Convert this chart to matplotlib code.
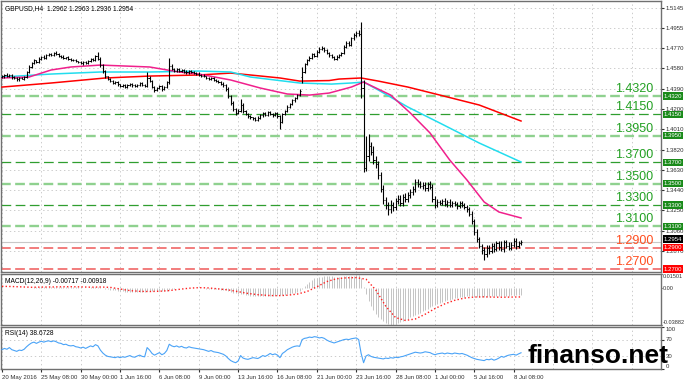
import matplotlib
matplotlib.use("Agg")
import matplotlib.pyplot as plt
import numpy as np

plt.rcParams['font.family'] = ['Liberation Sans', 'DejaVu Sans']
plt.rcParams['lines.scale_dashes'] = False

# ---- data (H4 bars, index 0 = 20 May 2016 16:00) ----
closes = [
    1.4505, 1.4518, 1.4510, 1.4522, 1.4500, 1.4488, 1.4476, 1.4492, 1.4485, 1.4502, 1.4548, 1.4596, 1.4632, 1.4655, 1.4641, 1.4672,
    1.4690, 1.4681, 1.4703, 1.4716, 1.4705, 1.4728, 1.4718, 1.4699, 1.4690, 1.4676, 1.4682, 1.4665, 1.4658, 1.4662, 1.4645, 1.4638,
    1.4626, 1.4640, 1.4632, 1.4651, 1.4668, 1.4660, 1.4694, 1.4672, 1.4610, 1.4552, 1.4505, 1.4478, 1.4462, 1.4445, 1.4452, 1.4430,
    1.4418, 1.4426, 1.4410, 1.4422, 1.4435, 1.4420, 1.4412, 1.4428, 1.4440, 1.4425, 1.4418, 1.4490, 1.4462, 1.4405, 1.4380, 1.4398,
    1.4412, 1.4385, 1.4402, 1.4450, 1.4605, 1.4575, 1.4560, 1.4572, 1.4555, 1.4566, 1.4550, 1.4542, 1.4558, 1.4548, 1.4538, 1.4530,
    1.4522, 1.4512, 1.4505, 1.4492, 1.4480, 1.4490, 1.4472, 1.4460, 1.4450, 1.4438, 1.4420, 1.4385, 1.4320, 1.4255, 1.4200, 1.4165,
    1.4182, 1.4240, 1.4180, 1.4150, 1.4132, 1.4120, 1.4112, 1.4100, 1.4118, 1.4140, 1.4160, 1.4148, 1.4170, 1.4152, 1.4142, 1.4160,
    1.4130, 1.4080, 1.4150, 1.4180, 1.4220, 1.4250, 1.4280, 1.4300, 1.4330, 1.4372, 1.4550, 1.4620, 1.4660, 1.4680, 1.4712, 1.4700,
    1.4738, 1.4762, 1.4770, 1.4748, 1.4720, 1.4702, 1.4685, 1.4672, 1.4688, 1.4705, 1.4722, 1.4780, 1.4820, 1.4800, 1.4860, 1.4890,
    1.4915, 1.4900, 1.4400, 1.3650, 1.3760, 1.3850, 1.3800, 1.3720, 1.3680, 1.3580, 1.3450, 1.3350, 1.3300, 1.3260, 1.3300, 1.3280,
    1.3340, 1.3360, 1.3320, 1.3380, 1.3360, 1.3390, 1.3420, 1.3450, 1.3520, 1.3500, 1.3480, 1.3490, 1.3460, 1.3500, 1.3470, 1.3360,
    1.3300, 1.3330, 1.3320, 1.3340, 1.3310, 1.3330, 1.3300, 1.3320, 1.3310, 1.3290, 1.3320, 1.3300, 1.3280, 1.3260, 1.3220, 1.3150,
    1.3050, 1.2980, 1.2920, 1.2880, 1.2840, 1.2900, 1.2870, 1.2920, 1.2890, 1.2940, 1.2910, 1.2890, 1.2950, 1.2920, 1.2900, 1.2930,
    1.2960, 1.2920, 1.2940, 1.2954,
]
first_open = 1.4500
gap_opens = {122: 1.4500}

# wick sizes in pips above max(open, close) and below min(open, close)
up_pips = [
    12, 8, 15, 10, 6, 9, 14, 7, 11, 8, 10, 12, 9, 14, 8, 11,
    9, 13, 7, 10, 12, 8, 15, 9, 7, 11, 8, 12, 9, 6, 10, 8,
    11, 9, 13, 8, 10, 12, 9, 40, 14, 10, 12, 8, 11, 9, 7, 12,
    8, 10, 12, 9, 11, 7, 13, 9, 8, 12, 10, 60, 15, 9, 11, 8,
    12, 10, 9, 14, 75, 16, 11, 9, 12, 8, 10, 13, 9, 11, 8, 10,
    12, 9, 11, 8, 10, 13, 9, 11, 8, 12, 10, 14, 16, 12, 15, 10,
    18, 50, 14, 11, 9, 12, 8, 10, 13, 15, 11, 9, 12, 10, 8, 14,
    11, 16, 12, 10, 14, 9, 12, 10, 13, 11, 40, 15, 12, 18, 10, 14,
    12, 16, 15, 11, 13, 9, 12, 10, 14, 11, 13, 20, 18, 14, 16, 22,
    18, 25, 115, 70, 190, 120, 40, 55, 35, 30, 25, 40, 30, 25, 45, 30,
    28, 35, 30, 25, 32, 28, 30, 26, 20, 24, 28, 22, 26, 20, 24, 30,
    22, 25, 20, 18, 24, 16, 22, 18, 20, 15, 22, 18, 20, 16, 18, 22,
    20, 24, 22, 18, 25, 30, 22, 26, 24, 20, 28, 50, 25, 22, 30, 20,
    28, 35, 22, 20,
]
dn_pips = [
    10, 14, 9, 12, 15, 8, 11, 13, 9, 10, 12, 8, 10, 9, 13, 8,
    11, 9, 12, 8, 10, 13, 9, 11, 12, 8, 10, 9, 13, 11, 8, 10,
    9, 12, 10, 8, 11, 9, 13, 10, 14, 18, 12, 10, 11, 13, 9, 12,
    10, 8, 13, 11, 9, 12, 10, 8, 11, 9, 12, 10, 14, 12, 18, 10,
    9, 13, 11, 10, 12, 9, 11, 10, 8, 12, 9, 11, 10, 8, 12, 9,
    10, 12, 9, 11, 13, 8, 10, 12, 9, 11, 14, 16, 18, 15, 20, 25,
    14, 12, 16, 10, 13, 11, 15, 12, 10, 9, 13, 11, 10, 12, 14, 9,
    13, 70, 14, 10, 12, 9, 11, 13, 10, 12, 60, 14, 11, 12, 9, 13,
    10, 12, 11, 13, 9, 12, 10, 14, 11, 9, 12, 10, 13, 11, 12, 14,
    12, 15, 100, 40, 30, 45, 35, 40, 30, 35, 30, 40, 35, 50, 30, 35,
    30, 28, 32, 25, 30, 28, 22, 25, 28, 30, 22, 26, 24, 28, 22, 30,
    25, 20, 22, 18, 20, 24, 18, 22, 20, 25, 18, 22, 20, 25, 24, 30,
    28, 30, 25, 35, 55, 25, 30, 22, 28, 25, 30, 22, 26, 24, 20, 25,
    22, 28, 20, 18,
]

# moving averages (bar index, price)
ma_red_idx = [0, 20, 42, 60, 80, 93, 101, 113, 121, 133, 137, 146, 153, 165, 178, 194, 211]
ma_red_val = [1.4405, 1.4443, 1.4490, 1.4508, 1.4518, 1.4536, 1.4518, 1.4490, 1.4461, 1.4466, 1.4480, 1.4490,
              1.4461, 1.4405, 1.4330, 1.4237, 1.4087]
ma_cyan_idx = [0, 20, 40, 60, 80, 93, 101, 121, 134, 142, 147, 153, 165, 178, 194, 211]
ma_cyan_val = [1.4499, 1.4527, 1.4546, 1.4546, 1.4555, 1.4546, 1.4499, 1.4443, 1.4433, 1.4443, 1.4452, 1.4377,
               1.4218, 1.4068, 1.3881, 1.3703]
ma_pink_idx = [0, 11, 20, 28, 40, 60, 72, 80, 93, 105, 116, 125, 133, 142, 147, 158, 166, 174, 182, 189, 196, 202, 211]
ma_pink_val = [1.4490, 1.4499, 1.4565, 1.4593, 1.4611, 1.4593, 1.4546, 1.4527, 1.4471, 1.4396, 1.4340, 1.4330,
               1.4349, 1.4405, 1.4452, 1.4330, 1.4162, 1.3975, 1.3722, 1.3535, 1.3329, 1.3235, 1.3179]

# MACD main (histogram) per bar, in 1e-4
macd_hist = [
    6, 6, 5, 5, 4, 3, 2, 1, 1, 1, 2, 4, 7, 9, 11, 13,
    14, 15, 16, 17, 18, 18, 18, 17, 16, 15, 14, 13, 12, 11, 10, 9,
    8, 7, 7, 7, 8, 9, 10, 11, 8, 3, -3, -9, -14, -18, -22, -26,
    -29, -32, -35, -37, -38, -39, -40, -40, -39, -38, -38, -33, -30, -30, -31, -31,
    -30, -30, -29, -25, -15, -8, -4, -1, 1, 3, 4, 5, 6, 6, 5, 4,
    2, 0, -2, -4, -6, -8, -9, -11, -13, -15, -17, -21, -28, -37, -46, -55,
    -60, -62, -66, -70, -74, -78, -81, -83, -84, -84, -83, -82, -80, -78, -77, -75,
    -74, -76, -73, -70, -66, -60, -54, -47, -39, -31, -5, 20, 45, 68, 88, 104,
    110, 118, 122, 124, 125, 125, 124, 123, 122, 122, 123, 126, 128, 130, 132, 134,
    136, 138, 105, 10, -60, -130, -190, -235, -270, -300, -325, -345, -362, -378, -388, -385,
    -378, -368, -356, -344, -332, -320, -308, -296, -284, -272, -258, -244, -230, -216, -202, -190,
    -178, -167, -157, -147, -138, -129, -121, -113, -106, -100, -95, -91, -88, -86, -86, -87,
    -88, -89, -90, -90, -89, -88, -87, -86, -85, -84, -83, -82, -80, -79, -77, -76,
    -75, -74, -73, -72,
]
macd_sig_idx = [0, 4, 8, 12, 16, 20, 24, 28, 32, 36, 40, 44, 48, 52, 56, 60, 64, 68, 72, 76, 80, 84, 88, 92,
                96, 100, 104, 108, 112, 116, 120, 124, 128, 132, 136, 140, 144, 148, 152, 156, 160, 164, 168,
                172, 176, 180, 184, 188, 192, 196, 200, 204, 208, 211]
macd_sig_val = [20, 18, 14, 10, 12, 13, 15, 16, 14, 11, 13, 9, -8, -25, -33, -35, -32, -25, -12, 0, 6, 3, -7, -18,
                -36, -55, -68, -76, -79, -74, -62, -35, 15, 70, 100, 110, 112, 95, -20, -190, -310, -340, -325,
                -275, -215, -165, -128, -104, -93, -91, -94, -95, -93, -92]

rsi = [
    46, 49, 47, 51, 46, 44, 42, 45, 44, 47, 53, 58, 62, 64, 61, 64,
    66, 64, 66, 67, 65, 67, 65, 62, 61, 58, 59, 56, 55, 56, 53, 52,
    50, 52, 49, 52, 55, 53, 58, 55, 45, 38, 33, 30, 29, 28, 27, 29,
    27, 29, 28, 30, 32, 29, 28, 31, 33, 30, 29, 51, 45, 37, 33, 36,
    39, 34, 37, 44, 59, 55, 53, 55, 52, 54, 51, 50, 53, 51, 50, 49,
    48, 47, 46, 44, 42, 44, 41, 40, 39, 37, 35, 31, 25, 20, 17, 15,
    19, 32, 26, 24, 23, 25, 27, 26, 25, 28, 32, 30, 33, 37, 34, 36,
    33, 27, 37, 41, 46, 49, 52, 54, 55, 54, 70, 73, 74, 76, 75, 77,
    76, 74, 75, 73, 69, 66, 64, 62, 64, 66, 68, 70, 71, 70, 72, 73,
    74, 70, 37, 15, 31, 34, 30, 28, 27, 26, 25, 24, 26, 25, 27, 26,
    28, 27, 29, 30, 32, 34, 36, 38, 40, 39, 38, 39, 41, 40, 39, 36,
    34, 36, 37, 38, 36, 38, 37, 36, 38, 37, 36, 37, 35, 33, 30, 27,
    25, 23, 22, 21, 20, 23, 22, 24, 21, 23, 26, 30, 28, 31, 33, 34,
    35, 33, 36, 38.67,
]

date_labels = ["20 May 2016", "25 May 08:00", "30 May 00:00", "1 Jun 16:00", "6 Jun 08:00", "9 Jun 00:00",
               "13 Jun 16:00", "16 Jun 08:00", "21 Jun 00:00", "23 Jun 16:00", "28 Jun 08:00", "1 Jul 00:00",
               "5 Jul 16:00", "8 Jul 08:00"]
price_ticks = [1.5145, 1.4955, 1.4770, 1.4580, 1.4390, 1.4200, 1.4010, 1.3820, 1.3630, 1.3440, 1.3250, 1.3060, 1.2870]
levels = [1.4320, 1.4150, 1.3950, 1.3700, 1.3500, 1.3300, 1.3100, 1.2900, 1.2700]
level_kind = ["light", "dark", "light", "dark", "light", "dark", "light", "red", "red"]
last_price = 1.2954

# ---- figure layout (pixel boxes) ----
W, H = 685, 383
fig = plt.figure(figsize=(W / 100, H / 100), dpi=100)
SMALL = 4.3


def box(top, bottom, left=1, right=661):
    return [left / W, 1 - bottom / H, (right - left) / W, (bottom - top) / H]


ax = fig.add_axes(box(1, 272))
axm = fig.add_axes(box(274, 325), sharex=ax)
axr = fig.add_axes(box(327, 369), sharex=ax)

n = len(closes)
idx = np.arange(n)
opens = [first_open] + closes[:-1]
for k, v in gap_opens.items():
    opens[k] = v
highs = [max(o, c) + u / 1e4 for o, c, u in zip(opens, closes, up_pips)]
lows = [min(o, c) - d / 1e4 for o, c, d in zip(opens, closes, dn_pips)]

grid_kw = dict(color='#c4c4c4', lw=0.6, linestyle=(0, (1, 2)), zorder=0)
tick_pos = np.arange(0, 268, 16)
for a in (ax, axm, axr):
    for t in tick_pos:
        a.axvline(t, **grid_kw)
    for s in a.spines.values():
        s.set_color('#707070')
        s.set_linewidth(1.0)
    a.set_facecolor('white')

# main price panel
for p in price_ticks:
    ax.axhline(p, **grid_kw)
ax.axhline(last_price, color='#c8c8c8', lw=0.8, zorder=1)

for lv, kind in zip(levels, level_kind):
    if kind == "light":
        col, lw, tcol = '#8fd18f', 1.7, '#22a022'
    elif kind == "dark":
        col, lw, tcol = '#2f9e2f', 0.9, '#22a022'
    else:
        col, lw, tcol = '#f27c7c', 1.4, '#ff4d1f'
    ax.axhline(lv, color=col, lw=lw, linestyle=(0, (7, 3.2)), zorder=2)
    ax.annotate(f"{lv:.4f}", xy=(0.988, lv), xycoords=('axes fraction', 'data'),
                xytext=(0, 0.8), textcoords='offset points', ha='right', va='bottom',
                fontsize=9, color=tcol, zorder=3)

ax.plot(ma_red_idx, ma_red_val, color='#ff0000', lw=1.1, zorder=4)
ax.plot(ma_cyan_idx, ma_cyan_val, color='#22ddee', lw=1.1, zorder=4)
ax.plot(ma_pink_idx, ma_pink_val, color='#f0208c', lw=1.1, zorder=4)

ax.vlines(idx, lows, highs, color='black', lw=0.8, zorder=5)
ax.hlines(opens, idx - 0.45, idx, color='black', lw=0.7, zorder=5)
ax.hlines(closes, idx, idx + 0.45, color='black', lw=0.7, zorder=5)

ax.set_xlim(-0.4, 267.9)
ax.set_ylim(1.2673, 1.5211)
ax.yaxis.tick_right()
ax.set_yticks(price_ticks)
ax.set_yticklabels([f"{p:.4f}" for p in price_ticks])
ax.tick_params(axis='y', labelsize=SMALL, length=2, pad=1.5, colors='#303030')
ax.tick_params(axis='x', bottom=False, labelbottom=False)

for lv, kind in zip(levels, level_kind):
    fc = '#ff0000' if kind == "red" else '#1a8a1a'
    ax.annotate(f"{lv:.4f}", xy=(1, lv), xycoords=('axes fraction', 'data'), xytext=(2.0, 0),
                textcoords='offset points', ha='left', va='center', fontsize=SMALL, color='white',
                bbox=dict(boxstyle='square,pad=0.2', fc=fc, ec='none'), annotation_clip=False, zorder=10)
# current-price tag sits just above the 1.2900 tag
ax.annotate(f"{last_price:.4f}", xy=(1, 1.2982), xycoords=('axes fraction', 'data'), xytext=(2.0, 0),
            textcoords='offset points', ha='left', va='center', fontsize=SMALL, color='white',
            bbox=dict(boxstyle='square,pad=0.2', fc='black', ec='none'), annotation_clip=False, zorder=10)

ax.text(0.006, 0.985, "GBPUSD,H4  1.2962 1.2963 1.2936 1.2954", transform=ax.transAxes,
        fontsize=4.8, va='top', ha='left', color='black')

# MACD panel
axm.vlines(idx, 0, np.array(macd_hist) / 1e4, color='#c4c4c4', lw=0.7, zorder=2)
axm.plot(macd_sig_idx, np.array(macd_sig_val) / 1e4, color='#ff2020', lw=1.0,
         linestyle=(0, (1, 1.6)), zorder=3)
axm.set_ylim(-0.03882, 0.01501)
axm.yaxis.tick_right()
axm.set_yticks([0.01501, 0.0, -0.03882])
axm.set_yticklabels(["0.01501", "0.00", "-0.03882"])
for lab, va in zip(axm.get_yticklabels(), ['top', 'center', 'bottom']):
    lab.set_verticalalignment(va)
axm.tick_params(axis='y', labelsize=4.0, length=1, pad=0.6, colors='#303030')
axm.tick_params(axis='x', bottom=False, labelbottom=False)
axm.text(0.006, 0.93, "MACD(12,26,9) -0.00717 -0.00918", transform=axm.transAxes,
         fontsize=4.8, va='top', ha='left')

# RSI panel
for lvl in (70, 30):
    axr.axhline(lvl, **grid_kw)
axr.plot(idx, rsi, color='#4aa3f7', lw=0.8, zorder=3)
axr.set_ylim(0, 100)
axr.yaxis.tick_right()
axr.set_yticks([100, 70, 30, 0])
axr.set_yticklabels(["100", "70", "30", "0"])
for lab, va in zip(axr.get_yticklabels(), ['top', 'center', 'center', 'bottom']):
    lab.set_verticalalignment(va)
axr.tick_params(axis='y', labelsize=SMALL, length=2, pad=1.5, colors='#303030')
axr.text(0.006, 0.93, "RSI(14) 38.6728", transform=axr.transAxes, fontsize=4.8, va='top', ha='left')

axr.set_xticks(tick_pos[:len(date_labels)])
axr.set_xticklabels(date_labels)
for lab in axr.get_xticklabels():
    lab.set_horizontalalignment('left')
axr.tick_params(axis='x', labelsize=SMALL, length=2, pad=2, colors='#303030')

fig.text(528 / W, 1 - 363 / H, "finanso.net", fontsize=19, fontweight='bold', color='black',
         ha='left', va='baseline', family=['Liberation Sans', 'DejaVu Sans'], zorder=20)

fig.savefig("out.png", dpi=100, facecolor='white')
